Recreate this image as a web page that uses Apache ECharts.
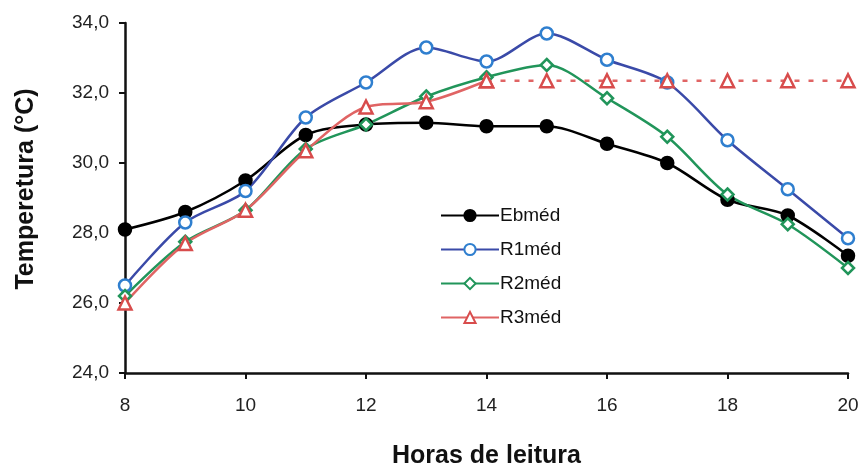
<!DOCTYPE html>
<html>
<head>
<meta charset="utf-8">
<script src="https://cdn.jsdelivr.net/npm/echarts@6/dist/echarts.min.js"></script>
<style>
  html, body { margin: 0; padding: 0; background: #ffffff; }
  #chart { width: 864px; height: 467px; }
</style>
</head>
<body>
<div id="chart"></div>
<script>
// Reading hours and mean temperatures (°C) per treatment
const hours = [8, 9, 10, 11, 12, 13, 14, 15, 16, 17, 18, 19, 20];
const ebMed = [28.1, 28.6, 29.5, 30.8, 31.1, 31.15, 31.05, 31.05, 30.55, 30.0, 28.95, 28.5, 27.35];
const r1Med = [26.5, 28.3, 29.2, 31.3, 32.3, 33.3, 32.9, 33.7, 32.95, 32.3, 30.65, 29.25, 27.85];
const r2Med = [26.2, 27.75, 28.65, 30.4, 31.1, 31.9, 32.45, 32.8, 31.85, 30.75, 29.1, 28.25, 27.0];
// R3 measured until 14 h; the remaining hours repeat the last reading (dashed)
const r3Med = [26.0, 27.7, 28.65, 30.35, 31.6, 31.75, 32.35];
const r3Held = [32.35, 32.35, 32.35, 32.35, 32.35, 32.35, 32.35];
const yTicks = [24, 26, 28, 30, 32, 34];
const seriesNames = ['Ebméd', 'R1méd', 'R2méd', 'R3méd'];

const pairs = (xs, ys, offset = 0) => ys.map((v, i) => [xs[i + offset], v]);

const FONT = '"Liberation Sans", Arial, Helvetica, sans-serif';
const chart = echarts.init(document.getElementById('chart'), null, { renderer: 'canvas' });

const baseLine = (name, data, color, symbol, markerColor, fill, size) => ({
  name, type: 'line', data, smooth: 0.3,
  symbol, symbolSize: size, showSymbol: true,
  lineStyle: { color, width: 2.5 },
  itemStyle: { color: fill, borderColor: markerColor, borderWidth: 2.5 },
  emphasis: { disabled: true },
  animation: false
});

chart.setOption({
  backgroundColor: '#ffffff',
  textStyle: { fontFamily: FONT },
  grid: { left: 125, right: 16, top: 23, bottom: 94, containLabel: false, outerBoundsMode: 'none' },
  legend: {
    data: seriesNames,
    orient: 'vertical',
    left: 435, top: 201,
    itemWidth: 58, itemHeight: 14, itemGap: 15,
    textStyle: { fontFamily: FONT, fontSize: 19, color: '#111', padding: [0, 0, 0, -4] },
    selectedMode: false
  },
  xAxis: {
    type: 'value', min: 8, max: 20, interval: 2,
    name: 'Horas de leitura', nameLocation: 'middle', nameGap: 71,
    nameTextStyle: { fontFamily: FONT, fontSize: 25, fontWeight: 'bold', color: '#111' },
    axisLine: { lineStyle: { color: '#111', width: 2.5 } },
    axisTick: { show: true, length: 6, lineStyle: { color: '#111', width: 2 } },
    axisLabel: { fontFamily: FONT, fontSize: 19, color: '#222', margin: 23 },
    splitLine: { show: false }
  },
  yAxis: {
    type: 'value', min: yTicks[0], max: yTicks[yTicks.length - 1], interval: 2,
    name: 'Temperetura (°C)', nameLocation: 'middle', nameGap: 86, nameRotate: 90,
    nameTextStyle: {
      fontFamily: FONT, fontSize: 25, fontWeight: 'bold', color: '#111',
      padding: [0, 0, 0, 18]
    },
    axisLine: { show: true, lineStyle: { color: '#111', width: 2.5 } },
    axisTick: { show: true, length: 6, lineStyle: { color: '#111', width: 2 } },
    axisLabel: {
      fontFamily: FONT, fontSize: 19, color: '#222', margin: 16,
      formatter: v => v.toFixed(1).replace('.', ',')
    },
    splitLine: { show: false }
  },
  series: [
    baseLine('Ebméd', pairs(hours, ebMed), '#000000', 'circle', '#000000', '#000000', 12),
    baseLine('R1méd', pairs(hours, r1Med), '#3a4aa8', 'circle', '#2f7fcf', '#ffffff', 12),
    baseLine('R2méd', pairs(hours, r2Med), '#21955a', 'diamond', '#21955a', '#ffffff', 12),
    baseLine('R3méd', pairs(hours, r3Med), '#e06464', 'triangle', '#d84c4c', '#ffffff', 13),
    Object.assign(
      baseLine('R3méd', pairs(hours, r3Held, 6), '#e06464', 'triangle', '#d84c4c', '#ffffff', 13),
      { smooth: false, lineStyle: { color: '#e06464', width: 2.5, type: [5, 9] } }
    )
  ]
});
</script>
</body>
</html>
